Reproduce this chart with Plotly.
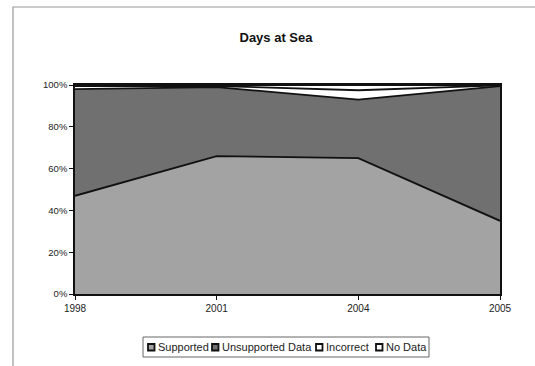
import plotly.graph_objects as go

# Share of days at sea by data quality category (percent)
years = ["1998", "2001", "2004", "2005"]
supported = [47, 66, 65, 35]
unsupported = [51, 33, 28, 64.5]
incorrect = [1.5, 0.5, 4.5, 0.3]
no_data = [0.5, 0.5, 2.5, 0.2]

series = [
    ("Supported", supported, "#a3a3a3"),
    ("Unsupported Data", unsupported, "#707070"),
    ("Incorrect", incorrect, "#ffffff"),
    ("No Data", no_data, "#ffffff"),
]

fig = go.Figure()
for name, vals, color in series:
    fig.add_trace(go.Scatter(
        x=years, y=vals, name=name, mode="lines",
        stackgroup="days", groupnorm="percent",
        line=dict(color="#111111", width=1.8),
        fillcolor=color, showlegend=False,
    ))

W, H = 535, 366
L, R, T, B = 75, 35, 85, 72
pw, ph = W - L - R, H - T - B


def px_x(p):
    return (p - L) / pw


def px_y(p):
    return (H - B - p) / ph


shapes = [
    # outer chart frame
    dict(type="rect", xref="paper", yref="paper",
         x0=px_x(13), x1=px_x(545), y0=px_y(375), y1=px_y(7),
         line=dict(color="#999999", width=1.2), layer="below"),
    # legend box
    dict(type="rect", xref="paper", yref="paper",
         x0=px_x(143), x1=px_x(429), y0=px_y(357), y1=px_y(337),
         line=dict(color="#666666", width=1), fillcolor="white"),
]
annotations = []

# compact legend row: swatch followed by its label
swatch_x = [148, 212, 316, 376]
cy = 347
for (name, _, color), sx in zip(series, swatch_x):
    shapes.append(dict(type="rect", xref="paper", yref="paper",
                       x0=px_x(sx), x1=px_x(sx + 6.5),
                       y0=px_y(cy + 3.5), y1=px_y(cy - 3),
                       line=dict(color="#111111", width=1.8), fillcolor=color))
    annotations.append(dict(text=name, xref="paper", yref="paper",
                            x=px_x(sx + 7.5), y=px_y(cy), xanchor="left",
                            yanchor="middle", showarrow=False,
                            font=dict(size=11, color="#222222")))

fig.update_layout(
    width=W, height=H,
    margin=dict(l=L, r=R, t=T, b=B, autoexpand=False),
    paper_bgcolor="white", plot_bgcolor="white",
    font=dict(family="Liberation Sans, Arial, sans-serif", size=10, color="#222222"),
    title=dict(text="<b>Days at Sea</b>", x=px_x(276), xref="paper", xanchor="center",
               y=1 - 37 / H, yanchor="middle", font=dict(size=13, color="#111111")),
    showlegend=False,
    xaxis=dict(type="category", range=[0, 3], showgrid=False, zeroline=False,
               ticks="outside", ticklen=4, tickcolor="#111111",
               showline=True, linecolor="#111111", linewidth=1.5, mirror=True,
               tickfont=dict(size=10)),
    yaxis=dict(range=[0, 100], tickvals=[0, 20, 40, 60, 80, 100],
               ticktext=["0%", "20%", "40%", "60%", "80%", "100%"],
               showgrid=False, zeroline=False, ticks="outside", ticklen=4,
               tickcolor="#111111", showline=True, linecolor="#111111",
               linewidth=1.5, mirror=True, tickfont=dict(size=9.5)),
    shapes=shapes,
    annotations=annotations,
)

fig.write_html("out.html")
